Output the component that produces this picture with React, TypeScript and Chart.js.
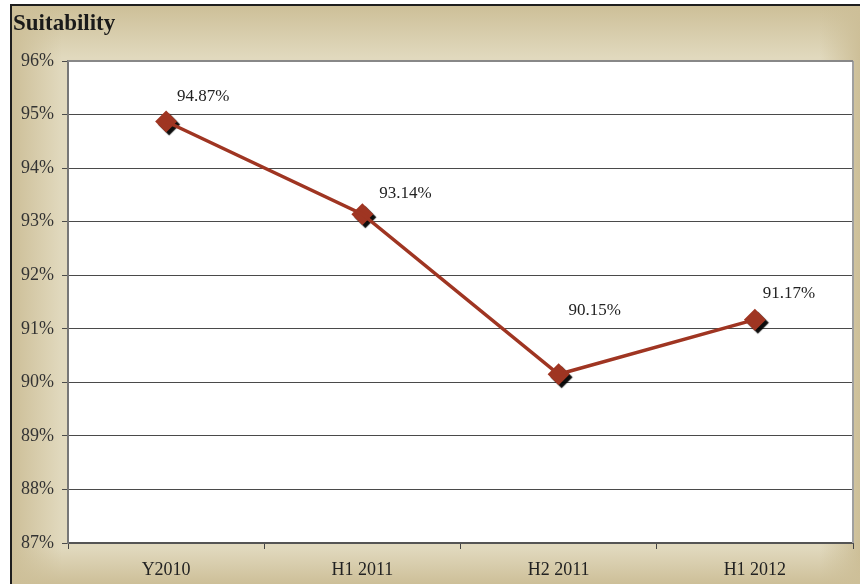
import React, { useEffect, useRef } from "react";
import { Chart, registerables } from "chart.js";

Chart.register(...registerables);

const chartTitle = "Suitability";
const categories = ["Y2010", "H1 2011", "H2 2011", "H1 2012"];
const suitability = [94.87, 93.14, 90.15, 91.17];
const yMin = 87;
const yMax = 96;
const yStep = 1;

const SERIF = "'Liberation Serif', 'Times New Roman', serif";
const LINE_COLOR = "#9f3522";
const LABEL_OFFSETS: [number, number][] = [
  [37, -25],
  [43, -21],
  [36, -64],
  [34, -26],
];

function edge(ctx: any, x0: number, y0: number, x1: number, y1: number, color: string) {
  const g = ctx.createLinearGradient(x0, y0, x1, y1);
  g.addColorStop(0, color);
  g.addColorStop(1, "rgba(205,191,152,0)");
  return g;
}

const backgroundPlugin = {
  id: "bgFrame",
  beforeDraw(chart: any) {
    const { ctx, width, height, chartArea } = chart;
    ctx.save();
    ctx.fillStyle = "#ffffff";
    ctx.fillRect(0, 0, width, height);
    ctx.fillStyle = "#e1d9be";
    ctx.fillRect(12, 6, width - 12, height - 6);
    const c = "rgba(205,191,152,1)";
    ctx.fillStyle = edge(ctx, 0, 6, 0, 58, c);
    ctx.fillRect(12, 6, width - 12, 52);
    ctx.fillStyle = edge(ctx, 12, 0, 62, 0, c);
    ctx.fillRect(12, 6, 50, height - 6);
    ctx.fillStyle = edge(ctx, width, 0, width - 40, 0, c);
    ctx.fillRect(width - 40, 6, 40, height - 6);
    ctx.fillStyle = edge(ctx, 0, height, 0, height - 36, c);
    ctx.fillRect(12, height - 36, width - 12, 36);
    ctx.fillStyle = "#1e1e1e";
    ctx.fillRect(10, 4, width - 10, 2);
    ctx.fillRect(10, 4, 2, height - 4);
    ctx.fillStyle = "#ffffff";
    ctx.fillRect(chartArea.left, chartArea.top, chartArea.right - chartArea.left, chartArea.bottom - chartArea.top);
    ctx.font = `bold 23px ${SERIF}`;
    ctx.fillStyle = "#1a1a1a";
    ctx.textBaseline = "alphabetic";
    ctx.textAlign = "left";
    ctx.fillText(chartTitle, 13, 30);
    ctx.restore();
  },
  beforeDatasetsDraw(chart: any) {
    const { ctx, chartArea } = chart;
    ctx.save();
    ctx.strokeStyle = "#a0a0a0";
    ctx.lineWidth = 2;
    ctx.beginPath();
    ctx.moveTo(chartArea.right, chartArea.top);
    ctx.lineTo(chartArea.right, chartArea.bottom);
    ctx.stroke();
    ctx.strokeStyle = "#888888";
    ctx.beginPath();
    ctx.moveTo(chartArea.left, chartArea.top);
    ctx.lineTo(chartArea.right, chartArea.top);
    ctx.stroke();
    ctx.restore();
  },
  beforeDatasetDraw(chart: any, args: any) {
    if (args.index === 1) {
      const ctx = chart.ctx;
      ctx.save();
      ctx.shadowColor = "rgba(0,0,0,0.95)";
      ctx.shadowOffsetX = 3;
      ctx.shadowOffsetY = 3;
      ctx.shadowBlur = 1;
    }
  },
  afterDatasetDraw(chart: any, args: any) {
    if (args.index === 1) {
      chart.ctx.restore();
    }
  },
  afterDatasetsDraw(chart: any) {
    const { ctx } = chart;
    const meta = chart.getDatasetMeta(1);
    ctx.save();
    ctx.font = `17px ${SERIF}`;
    ctx.fillStyle = "#222222";
    ctx.textAlign = "center";
    ctx.textBaseline = "middle";
    meta.data.forEach((pt: any, i: number) => {
      const [dx, dy] = LABEL_OFFSETS[i] || [36, -25];
      ctx.fillText(suitability[i].toFixed(2) + "%", pt.x + dx, pt.y + dy);
    });
    ctx.restore();
  },
};

export default function App() {
  const ref = useRef<HTMLCanvasElement | null>(null);
  useEffect(() => {
    if (!ref.current) return;
    const chart = new Chart(ref.current, {
      type: "line",
      data: {
        labels: categories,
        datasets: [
          {
            data: suitability,
            borderColor: LINE_COLOR,
            borderWidth: 3.5,
            pointRadius: 0,
            fill: false,
            tension: 0,
          },
          {
            data: suitability,
            showLine: false,
            pointStyle: "rectRot",
            pointRadius: 11,
            pointBackgroundColor: LINE_COLOR,
            pointBorderColor: LINE_COLOR,
            pointBorderWidth: 0,
          },
        ],
      },
      options: {
        responsive: false,
        animation: false,
        layout: { autoPadding: false, padding: { left: 0, top: 61, right: 7, bottom: 0 } },
        plugins: {
          legend: { display: false },
          tooltip: { enabled: false },
          title: { display: false },
        },
        scales: {
          x: {
            offset: true,
            grid: {
              display: true,
              offset: true,
              drawOnChartArea: false,
              drawTicks: true,
              tickLength: 6,
              color: "#444444",
              lineWidth: 1,
            },
            border: { display: true, color: "#555555", width: 2 },
            ticks: {
              font: { family: SERIF, size: 18 },
              color: "#222222",
              padding: 10,
              maxRotation: 0,
            },
            afterFit(scale: any) {
              scale.height = 41;
              scale.paddingLeft = 0;
              scale.paddingRight = 0;
            },
          },
          y: {
            min: yMin,
            max: yMax,
            grid: {
              color: "#4a4a4a",
              lineWidth: 1,
              drawTicks: true,
              tickLength: 6,
            },
            border: { display: true, color: "#777777", width: 2 },
            ticks: {
              stepSize: yStep,
              font: { family: SERIF, size: 18 },
              color: "#333333",
              padding: 8,
              callback: (v: any) => `${v}%`,
            },
            afterFit(scale: any) {
              scale.width = 68;
              scale.paddingTop = 0;
              scale.paddingBottom = 0;
            },
          },
        },
      },
      plugins: [backgroundPlugin],
    });
    return () => chart.destroy();
  }, []);
  return (
    <div style={{ position: "absolute", left: 0, top: 0, width: 860, height: 584 }}>
      <canvas ref={ref} width={860} height={584} style={{ display: "block" }} />
    </div>
  );
}
